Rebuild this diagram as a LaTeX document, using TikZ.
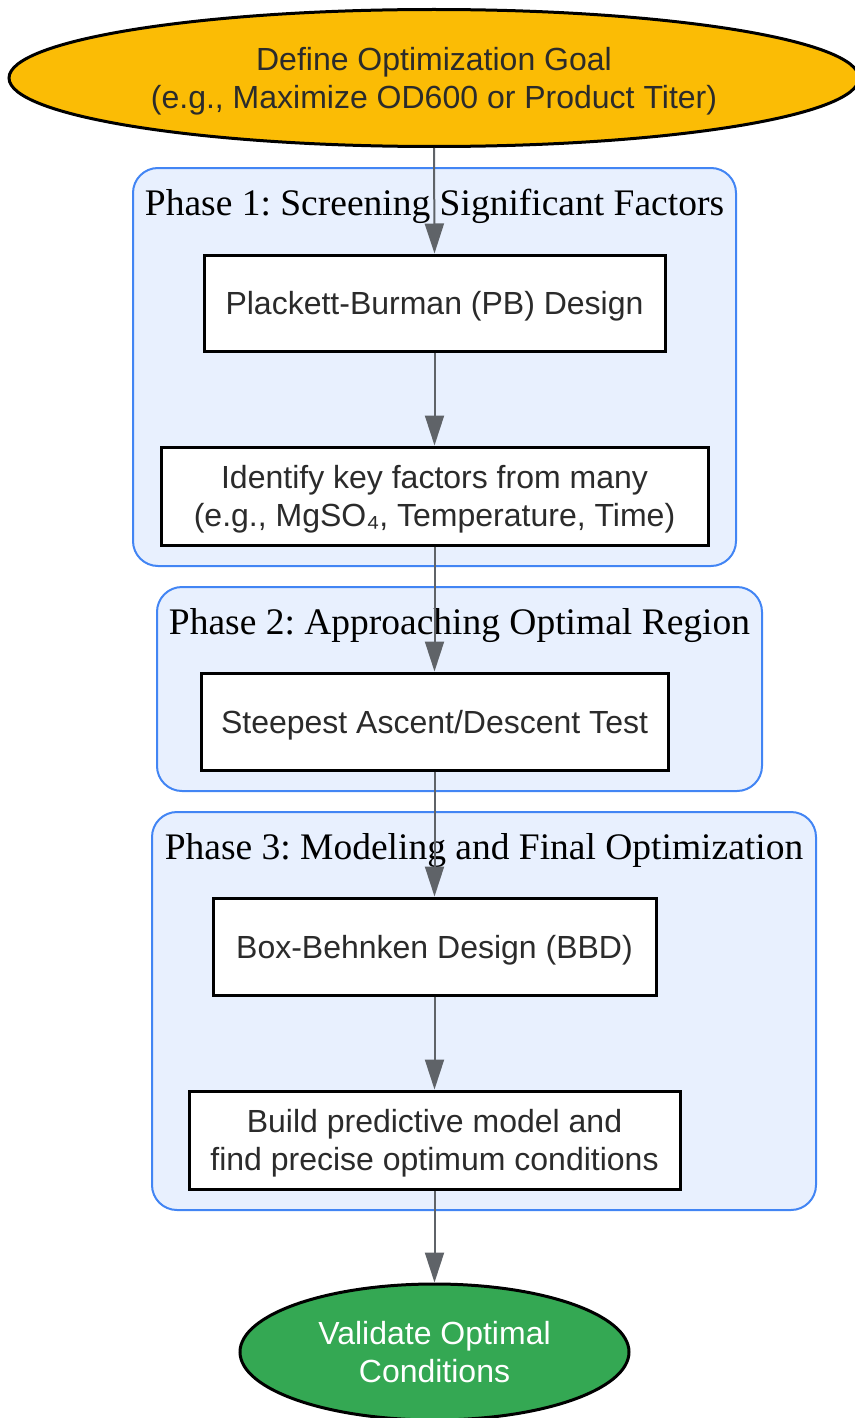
\documentclass[tikz,border=0pt]{standalone}
\usepackage{fontspec}
\setmainfont{Liberation Serif}
\setsansfont{Liberation Sans}
\usetikzlibrary{shapes.geometric,arrows.meta}
\definecolor{goalc}{HTML}{FBBC05}
\definecolor{validc}{HTML}{34A853}
\definecolor{clfill}{HTML}{E8F0FE}
\definecolor{clborder}{HTML}{4285F4}
\definecolor{arrowc}{HTML}{5F6368}
\definecolor{txt}{HTML}{2B2B2B}
\frenchspacing
\begin{document}
\begin{tikzpicture}[x=1pt,y=-1pt,
  cluster/.style={draw=clborder, fill=clfill, line width=2pt, rounded corners=25pt},
  title/.style={font=\fontsize{37.5}{40}\selectfont, anchor=base, text=black, inner sep=0pt},
  oneline/.style={text height=23pt, text depth=0pt},
  twoline/.style={text height=61pt, text depth=0pt},
  stepbox/.style={draw=black, fill=white, line width=3pt, inner sep=0pt,
    font=\sffamily\fontsize{32}{38}\selectfont, text=txt, align=center},
  terminal/.style={ellipse, draw=black, line width=3pt, inner sep=0pt,
    font=\sffamily\fontsize{32}{38}\selectfont, align=center},
  flow/.style={draw=arrowc, line width=2pt, -{Triangle[length=30pt,width=19pt]}}
]
\useasboundingbox (0,0) rectangle (854,1418);
% clusters
\draw[cluster] (133,168) rectangle (736,566);
\draw[cluster] (157,587) rectangle (762,791);
\draw[cluster] (152,812) rectangle (816,1210);
\node[title] (t1) at (434.5,215) {Phase 1: Screening Significant Factors};
\node[title] (t2) at (459.5,634) {Phase 2: Approaching Optimal Region};
\node[title] (t3) at (484,859) {Phase 3: Modeling and Final Optimization};
% nodes
\node[terminal, twoline, fill=goalc, text=txt, minimum width=850pt, minimum height=137pt] (goal) at (434,78)
  {Define Optimization Goal\\(e.g., Maximize OD600 or Product Titer)};
\node[stepbox, oneline, minimum width=461pt, minimum height=96pt] (pb) at (434.5,303) {Plackett-Burman (PB) Design};
\node[stepbox, twoline, minimum width=547pt, minimum height=98pt] (key) at (434.5,496)
  {Identify key factors from many\\(e.g., MgSO₄, Temperature, Time)};
\node[stepbox, oneline, minimum width=467pt, minimum height=97pt] (sa) at (434.5,721.5) {Steepest Ascent/Descent Test};
\node[stepbox, oneline, minimum width=443pt, minimum height=97pt] (bbd) at (434.5,946.5) {Box-Behnken Design (BBD)};
\node[stepbox, twoline, minimum width=491pt, minimum height=98pt] (model) at (434.5,1140)
  {Build predictive model and\\find precise optimum conditions};
\node[terminal, twoline, fill=validc, text=white, minimum width=389pt, minimum height=136pt] (valid) at (434.5,1352)
  {Validate Optimal\\Conditions};
% arrows
\draw[flow] (goal.south) -- (pb.north);
\draw[flow] (pb.south) -- (key.north);
\draw[flow] (key.south) -- (sa.north);
\draw[flow] (sa.south) -- (bbd.north);
\draw[flow] (bbd.south) -- (model.north);
\draw[flow] (model.south) -- (valid.north);
\end{tikzpicture}
\end{document}
